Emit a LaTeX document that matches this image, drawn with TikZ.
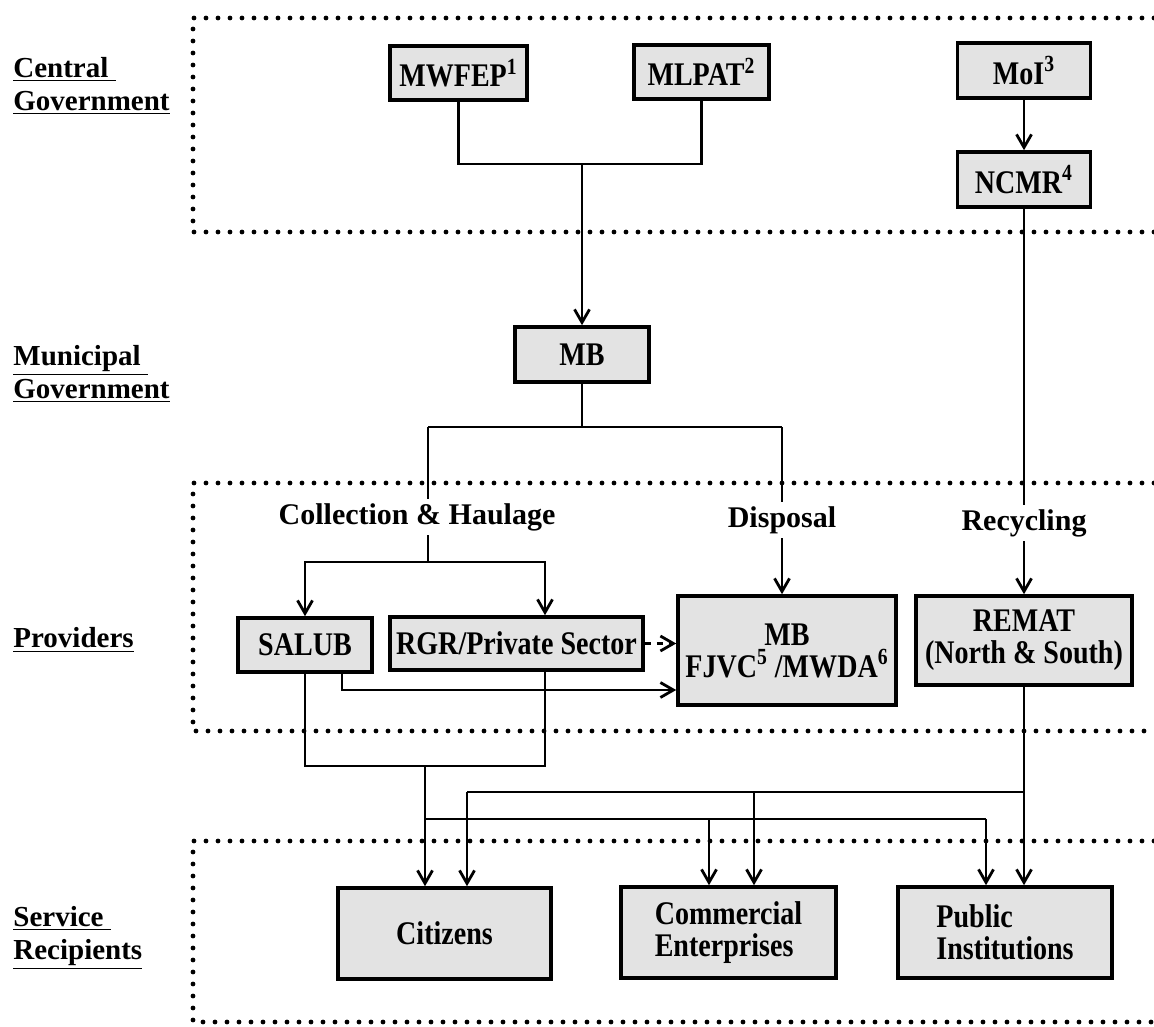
\documentclass[tikz,border=0pt]{standalone}
\usepackage{fontspec}
\setmainfont{Liberation Serif}
\newfontfamily\boxfont{Liberation Serif}[FakeStretch=0.85]
\usetikzlibrary{arrows.meta}
\usetikzlibrary{positioning}

\begin{document}
\begin{tikzpicture}[x=0.5pt, y=-0.5pt,
    band/.style={line width=2.4pt, line cap=round, dash pattern=on 0pt off 6pt},
    unit/.style={draw, line width=1.8pt, fill=gray!22, inner sep=0pt, align=center,
      font=\boxfont\bfseries\fontsize{16.5}{16}\selectfont},
    boxsize/.style 2 args={minimum width=#1*0.5pt, minimum height=#2*0.5pt},
    side/.style={anchor=west, align=left, inner sep=0pt, font=\bfseries\fontsize{14.5}{16.5}\selectfont},
    task/.style={inner sep=2pt, font=\bfseries\fontsize{15}{17}\selectfont},
    link/.style={line width=1.4pt},
    arr/.style={link, -{Straight Barb[length=6.5pt, width=7.5pt]}}]
      \useasboundingbox (0,0) rectangle (1154,1026);

      % levels
      \draw [band] (1154,18) -- (193,18) -- (193,232) -- (1154,232);
      \draw [band] (1154,483) -- (193,483) -- (193,731) -- (1154,731);
      \draw [band] (1154,841) -- (193,841) -- (193,1022) -- (1154,1022);

      \node [side] (lcen) at (13,86) {\underline{Central\ }\\\underline{Government}};
      \node [side] (lmun) at (13,374) {\underline{Municipal\ }\\\underline{Government}};
      \node [side] (lpro) at (13,640) {\underline{Providers}};
      \node [side] (lser) at (13,938) {\underline{Service\ }\\\underline{Recipients}};

      % boxes
      \node [unit, boxsize={137}{54}] (mwfep) at (458.5,73) {MWFEP\textsuperscript{1}};
      \node [unit, boxsize={135}{54}] (mlpat) at (701.5,72) {MLPAT\textsuperscript{2}};
      \node [unit, boxsize={133}{55}] (moi) at (1024,70.5) {MoI\textsuperscript{3}};
      \node [unit, boxsize={133}{55}] (ncmr) at (1024,179.5) {NCMR\textsuperscript{4}};
      \node [unit, boxsize={134}{55}] (mb) at (582,354.5) {MB};
      \node [unit, boxsize={134}{54}] (salub) at (305,645) {SALUB};
      \node [unit, boxsize={253}{53}] (rgr) at (516.5,643.5) {RGR/Private Sector};
      \node [unit, boxsize={218}{109}] (disp) at (787,650.5) {MB\\FJVC\textsuperscript{5} /MWDA\textsuperscript{6}};
      \node [unit, boxsize={216}{89}] (remat) at (1024,640.5) {REMAT\\(North \& South)};
      \node [unit, boxsize={213}{91}] (citiz) at (444.5,933.5) {Citizens};
      \node [unit, boxsize={215}{91}, align=left] (comm) at (728.5,932.5) {Commercial\\Enterprises};
      \node [unit, boxsize={214}{91}, align=left] (publ) at (1005,932.5) {Public\\Institutions};

      \node [task] (coll) at (417,517) {Collection \& Haulage};
      \node [task] (dispo) at (782,520) {Disposal};
      \node [task] (recyc) at (1024,523) {Recycling};

      % central and municipal level
      \coordinate (tj) at (582,164);
      \draw [link] (mwfep.south) |- (tj) -| (mlpat.south);
      \draw [arr] (tj) -- (mb.north);
      \draw [arr] (moi) -- (ncmr);

      \coordinate (mj) at (582,427);
      \coordinate (cl) at (428,427);
      \coordinate (dr) at (782,427);
      \draw [link] (mb.south) -- (mj);
      \draw [link] (cl) -- (dr);
      \draw [link] (cl) -- (cl |- coll.north);
      \draw [link] (dr) -- (dr |- dispo.north);
      \draw [link] (ncmr.south) -- (recyc.north);

      % providers
      \coordinate (ch) at (428,562);
      \coordinate (chr) at (545,562);
      \draw [link] (cl |- coll.south) -- (ch);
      \draw [arr] (ch) -| (salub.north);
      \draw [arr] (ch) -- (chr) -- (chr |- rgr.north);
      \draw [arr] (dr |- dispo.south) -- (dr |- disp.north);
      \draw [arr] (recyc.south) -- (remat.north);
      \draw [arr, dashed] (rgr.east) -- (rgr.east -| disp.west);
      \coordinate (sd) at (342,690);
      \draw [arr] (salub.south -| sd) |- (sd -| disp.west);

      % to the recipients
      \coordinate (pj) at (425,766);
      \coordinate (lo) at (425,819);
      \coordinate (loc) at (709,819);
      \coordinate (loe) at (986,819);
      \draw [link] (salub.south) |- (pj) -| (chr |- rgr.south);
      \draw [arr] (pj) -- (pj |- citiz.north);
      \draw [link] (lo) -- (loe);
      \draw [arr] (loc) -- (loc |- comm.north);
      \draw [arr] (loe) -- (loe |- publ.north);

      \coordinate (up) at (1024,792);
      \coordinate (upc) at (754,792);
      \coordinate (upw) at (467,792);
      \draw [arr] (remat.south) -- (remat.south |- publ.north);
      \draw [link] (up) -- (upw);
      \draw [arr] (upw) -- (upw |- citiz.north);
      \draw [arr] (upc) -- (upc |- comm.north);
    \end{tikzpicture}
\end{document}
